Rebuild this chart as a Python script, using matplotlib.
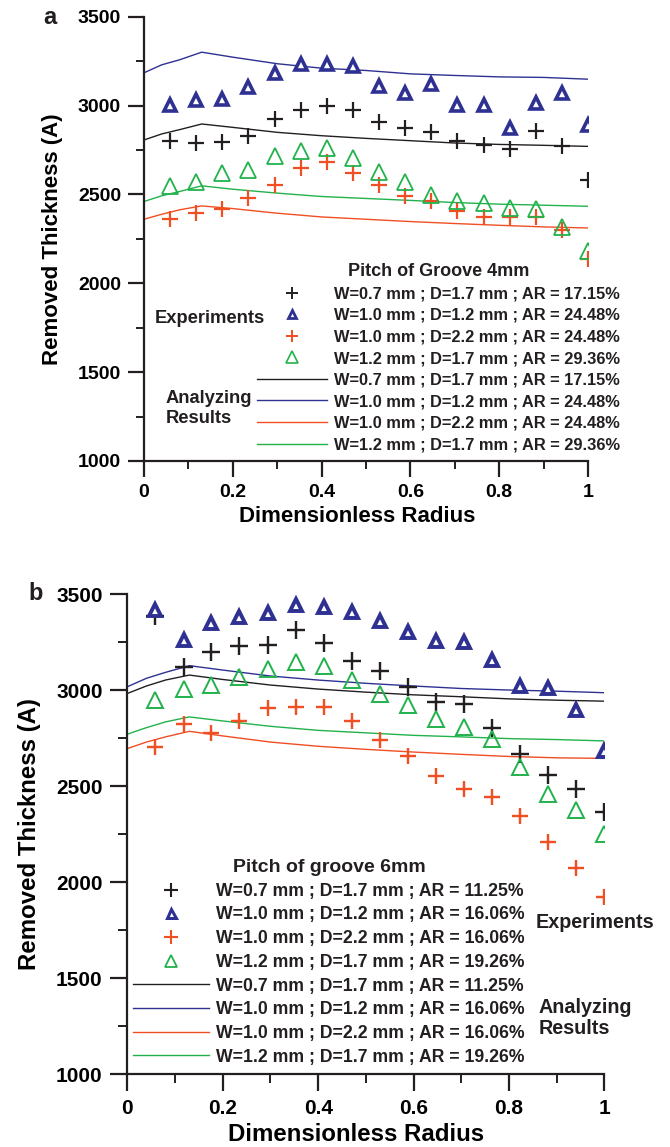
import matplotlib
matplotlib.use('Agg')
import matplotlib.pyplot as plt
from matplotlib.lines import Line2D
from matplotlib.ticker import MultipleLocator

plt.rcParams['font.family'] = ['Liberation Sans', 'DejaVu Sans']
plt.rcParams['font.weight'] = 'bold'
plt.rcParams['text.color'] = '#231f20'
plt.rcParams['axes.labelweight'] = 'bold'

# measurement radii (dimensionless)
exp_x = [0.059, 0.118, 0.176, 0.235, 0.294, 0.353, 0.412, 0.471, 0.529,
         0.588, 0.647, 0.706, 0.765, 0.824, 0.882, 0.941, 1.0]
# radii where the analysis curves were read
line_x = [0, 0.04, 0.08, 0.13, 0.2, 0.3, 0.4, 0.5, 0.6, 0.7, 0.8, 0.9, 1.0]

# panel a, pitch 4 mm
a_labels = ['W=0.7 mm ; D=1.7 mm ; AR = 17.15%',
            'W=1.0 mm ; D=1.2 mm ; AR = 24.48%',
            'W=1.0 mm ; D=2.2 mm ; AR = 24.48%',
            'W=1.2 mm ; D=1.7 mm ; AR = 29.36%']
a_exp = [
    [2802, 2787, 2797, 2830, 2924, 2975, 3000, 2975, 2906, 2874, 2849, 2802, 2780, 2755, 2855, 2774, 2580],
    [3005, 3032, 3037, 3103, 3184, 3231, 3233, 3222, 3109, 3069, 3122, 3003, 3003, 2875, 3013, 3069, 2892],
    [2360, 2398, 2417, 2477, 2552, 2646, 2680, 2620, 2550, 2492, 2463, 2407, 2370, 2370, 2370, 2298, 2134],
    [2545, 2571, 2620, 2638, 2717, 2746, 2759, 2703, 2627, 2571, 2496, 2463, 2450, 2426, 2417, 2319, 2181],
]
a_model = [
    [2806, 2840, 2864, 2896, 2877, 2849, 2830, 2815, 2802, 2789, 2781, 2776, 2770],
    [3184, 3229, 3257, 3300, 3272, 3235, 3210, 3197, 3178, 3169, 3161, 3158, 3148],
    [2360, 2388, 2413, 2435, 2420, 2394, 2373, 2360, 2347, 2336, 2326, 2317, 2311],
    [2460, 2492, 2516, 2548, 2529, 2507, 2488, 2477, 2466, 2454, 2445, 2439, 2433],
]

# panel b, pitch 6 mm
b_labels = ['W=0.7 mm ; D=1.7 mm ; AR = 11.25%',
            'W=1.0 mm ; D=1.2 mm ; AR = 16.06%',
            'W=1.0 mm ; D=2.2 mm ; AR = 16.06%',
            'W=1.2 mm ; D=1.7 mm ; AR = 19.26%']
b_exp = [
    [3383, 3122, 3200, 3230, 3235, 3313, 3244, 3153, 3101, 3017, 2939, 2925, 2804, 2668, 2560, 2485, 2363],
    [3415, 3261, 3348, 3380, 3401, 3444, 3432, 3404, 3361, 3300, 3256, 3252, 3157, 3021, 3012, 2895, 2682],
    [2703, 2825, 2778, 2839, 2904, 2912, 2912, 2839, 2738, 2656, 2552, 2482, 2442, 2346, 2211, 2075, 1922],
    [2947, 3005, 3026, 3066, 3110, 3148, 3125, 3052, 2979, 2921, 2851, 2808, 2743, 2599, 2456, 2376, 2249],
]
b_model = [
    [2982, 3021, 3052, 3078, 3055, 3026, 3005, 2989, 2975, 2965, 2954, 2947, 2942],
    [3017, 3061, 3092, 3127, 3104, 3073, 3052, 3035, 3021, 3008, 3000, 2994, 2986],
    [2695, 2729, 2756, 2785, 2761, 2729, 2707, 2691, 2677, 2665, 2654, 2647, 2644],
    [2770, 2804, 2834, 2860, 2839, 2811, 2790, 2777, 2764, 2756, 2747, 2742, 2735],
]

colors = ['#231f20', '#2e3192', '#f04e23', '#22b24c']
# marker, size, edge width, face
marker_styles = [('+', 11.5, 1.6, 'none'), ('^', 8.5, 2.6, 'white'),
                 ('+', 11.0, 1.6, 'none'), ('^', 11.0, 1.3, 'none')]
legend_markers = [('+', 9, 1.4, 'none'), ('^', 6, 2.0, 'white'),
                  ('+', 9, 1.4, 'none'), ('^', 8, 1.2, 'none')]


def plot_panel(ax, exp, model, labels, title, s, opts):
    for ys, c in zip(model, colors):
        ax.plot(line_x, ys, color=c, lw=1.0, zorder=2)
    for ys, c, (m, ms, mew, mfc) in zip(exp, colors, marker_styles):
        ax.plot(exp_x, ys, ls='none', marker=m, ms=ms * s, mew=mew * s,
                mec=c, mfc=mfc, zorder=3)

    ax.set_xlim(0, 1)
    ax.set_ylim(1000, 3500)
    ax.xaxis.set_major_locator(MultipleLocator(0.2))
    ax.xaxis.set_minor_locator(MultipleLocator(0.1))
    ax.yaxis.set_major_locator(MultipleLocator(500))
    ax.yaxis.set_minor_locator(MultipleLocator(250))
    ax.set_xticks([0, 0.2, 0.4, 0.6, 0.8, 1.0], ['0', '0.2', '0.4', '0.6', '0.8', '1'])
    for side in ['top', 'right']:
        ax.spines[side].set_visible(False)
    for side in ['left', 'bottom']:
        ax.spines[side].set_linewidth(1.6)
        ax.spines[side].set_color('#231f20')
    ax.tick_params(which='major', direction='out', length=11.5 * s, width=1.6,
                   labelsize=opts['tick'], pad=5 * s, color='#231f20')
    ax.tick_params(which='minor', direction='out', length=5.8 * s, width=1.4,
                   color='#231f20')
    ax.set_xlabel('Dimensionless Radius', fontsize=opts['label'], va='top')
    ax.set_ylabel('Removed Thickness (A)', fontsize=opts['label'], va='center')
    ax.xaxis.set_label_coords(0.48, -0.101)
    ax.yaxis.set_label_coords(-0.206, 0.5)

    handles = []
    for c, (m, ms, mew, mfc) in zip(colors, legend_markers):
        handles.append(Line2D([], [], ls='none', marker=m, ms=ms * s, mew=mew * s,
                              mec=c, mfc=mfc))
    for c in colors:
        handles.append(Line2D([], [], color=c, lw=1.0))
    leg = ax.legend(handles, labels + labels, title=title, loc='upper left',
                    bbox_to_anchor=opts['leg_anchor'], frameon=False,
                    fontsize=opts['leg'], borderpad=0, borderaxespad=0,
                    handlelength=opts['hlen'], handletextpad=opts['hpad'],
                    labelspacing=opts['lspace'], numpoints=1,
                    title_fontproperties={'weight': 'bold', 'size': opts['title']})
    leg._legend_box.align = 'center'

    ax.text(*opts['exp_pos'], 'Experiments', transform=ax.transAxes,
            fontsize=opts['group'], ha='left', va='baseline')
    ax.text(*opts['ana_pos'], 'Analyzing', transform=ax.transAxes,
            fontsize=opts['group'], ha='left', va='baseline')
    ax.text(*opts['res_pos'], 'Results', transform=ax.transAxes,
            fontsize=opts['group'], ha='left', va='baseline')
    ax.text(*opts['tag_pos'], opts['tag'], transform=ax.transAxes,
            fontsize=opts['tag_size'], ha='right', va='center')


fig = plt.figure(figsize=(6.7, 11.47), dpi=100)
ax_a = fig.add_axes([0.2149, 0.5981, 0.6627, 0.3874])
ax_b = fig.add_axes([0.1900, 0.0636, 0.7122, 0.4185])

plot_panel(ax_a, a_exp, a_model, a_labels, 'Pitch of Groove 4mm', 1.0,
           {'tick': 14, 'label': 16, 'leg': 11.8, 'title': 13, 'group': 13.2,
            'hlen': 4.27, 'hpad': 0.43, 'lspace': 0.40, 'leg_anchor': (0.2545, 0.446),
            'exp_pos': (0.0248, 0.3106), 'ana_pos': (0.0495, 0.131),
            'res_pos': (0.0495, 0.0862), 'tag': 'a', 'tag_pos': (-0.197, 0.998),
            'tag_size': 17})
plot_panel(ax_b, b_exp, b_model, b_labels, 'Pitch of groove 6mm', 1.08,
           {'tick': 15, 'label': 17.3, 'leg': 12.7, 'title': 14, 'group': 14.2,
            'hlen': 4.31, 'hpad': 0.44, 'lspace': 0.38, 'leg_anchor': (0.0113, 0.448),
            'exp_pos': (0.8565, 0.3035), 'ana_pos': (0.862, 0.1265),
            'res_pos': (0.862, 0.0827), 'tag': 'b', 'tag_pos': (-0.177, 1.002),
            'tag_size': 17})

fig.savefig('out.png', dpi=100)
